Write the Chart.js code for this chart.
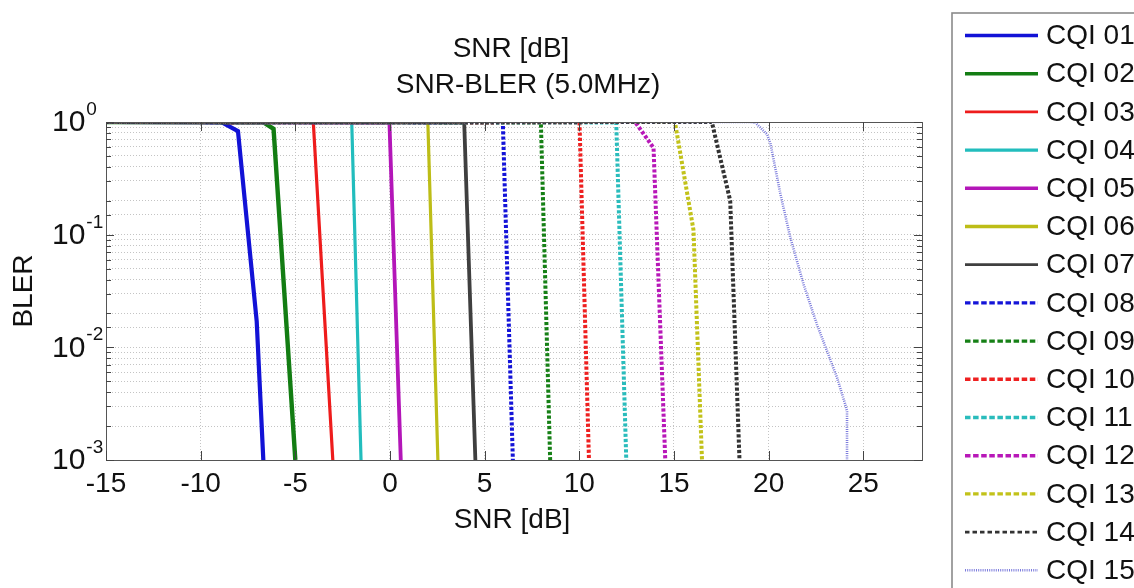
<!DOCTYPE html>
<html><head><meta charset="utf-8">
<script src="https://cdn.jsdelivr.net/npm/chart.js@4.4.0/dist/chart.umd.min.js"></script>
<style>html,body{margin:0;padding:0;background:#fff;}#wrap{width:1134px;height:588px;position:relative;}</style>
</head><body><div id="wrap"><canvas id="c" width="1134" height="588"></canvas></div>
<script>
// ---- data ----
const seriesNames = ['CQI 01','CQI 02','CQI 03','CQI 04','CQI 05','CQI 06','CQI 07','CQI 08','CQI 09','CQI 10','CQI 11','CQI 12','CQI 13','CQI 14','CQI 15'];
const snr01 = [-15, -8.9, -8.03, -7.04, -6.69];
const bler01 = [1, 0.995, 0.83, 0.017, 0.001];
const snr02 = [-15, -6.7, -6.15, -5.0];
const bler02 = [1, 0.995, 0.87, 0.001];
const snr03 = [-15, -4.05, -3.02];
const bler03 = [1, 0.99, 0.001];
const snr04 = [-15, -2.02, -1.53];
const bler04 = [1, 0.99, 0.001];
const snr05 = [-15, -0.03, 0.57];
const bler05 = [1, 0.99, 0.001];
const snr06 = [-15, 2.0, 2.53];
const bler06 = [1, 0.99, 0.001];
const snr07 = [-15, 3.92, 4.51];
const bler07 = [1, 0.99, 0.001];
const snr08 = [-15, 5.96, 6.49];
const bler08 = [1, 0.99, 0.001];
const snr09 = [-15, 7.97, 8.46];
const bler09 = [1, 0.99, 0.001];
const snr10 = [-15, 10.01, 10.51];
const bler10 = [1, 0.99, 0.001];
const snr11 = [-15, 11.95, 12.48];
const bler11 = [1, 0.99, 0.001];
const snr12 = [-15, 12.95, 13.92, 14.54];
const bler12 = [1, 1, 0.59, 0.001];
const snr13 = [-15, 15.05, 16.03, 16.48];
const bler13 = [1, 1, 0.11, 0.001];
const snr14 = [-15, 17.0, 17.97, 18.46];
const bler14 = [1, 1, 0.2, 0.001];
const snr15 = [-15, 19.03, 19.29, 19.91, 20.09, 20.62, 21.14, 21.85, 22.55, 23.08, 23.61, 24.05, 24.14, 24.14];
const bler15 = [1, 1, 0.99, 0.78, 0.65, 0.23, 0.095, 0.036, 0.016, 0.0093, 0.0054, 0.0031, 0.0027, 0.001];
const xTickValues = [-15, -10, -5, 0, 5, 10, 15, 20, 25];
const xTickLabels = ['-15', '-10', '-5', '0', '5', '10', '15', '20', '25'];
const yTickExponents = ['0', '-1', '-2', '-3'];
const titleLines = ['SNR [dB]', 'SNR-BLER (5.0MHz)'];
const xTitle = 'SNR [dB]';
const yTitle = 'BLER';

// ---- styles ----
const snrs = [snr01,snr02,snr03,snr04,snr05,snr06,snr07,snr08,snr09,snr10,snr11,snr12,snr13,snr14,snr15];
const blers = [bler01,bler02,bler03,bler04,bler05,bler06,bler07,bler08,bler09,bler10,bler11,bler12,bler13,bler14,bler15];
const colors = ['#1212d6','#137d13','#ee1c1c','#22bdbd','#b316b8','#bdbd17','#3f3f3f','#1414d8','#168016','#ee2020','#2abcbc','#b818b8','#c2c21a','#333333','#7c7cdc'];
const widths = [4.2,4.4,3.2,3.2,3.8,3.2,3.8,4,4,4,4,4,4,4,2.6];
const dotted = [3.2,2];
const dashes = [[],[],[],[],[],[],[],dotted,dotted,dotted,dotted,dotted,dotted,dotted,[1,1.2]];
const legendDashes = [[],[],[],[],[],[],[],[5.5,2.6],[5.5,2.6],[5.5,2.6],[5.5,2.6],[5.5,2.6],[5.5,2.6],[4.5,3],[1,1.2]];
const legendWidths = [3.6,3.6,2.6,3.2,3.6,3.4,2.8,3.4,3.4,3.4,3.4,3.4,3.4,2.6,2.4];
const FONT = '"Liberation Sans", Arial, Helvetica, sans-serif';

const datasets = seriesNames.map((name, i) => ({
  label: name,
  data: snrs[i].map((x, k) => ({x: x, y: blers[i][k]})),
  borderColor: colors[i],
  backgroundColor: colors[i],
  borderWidth: widths[i],
  borderDash: dashes[i],
  borderCapStyle: 'butt',
  borderJoinStyle: 'miter',
  pointRadius: 0,
  tension: 0,
  fill: false,
  order: seriesNames.length - 1 - i
}));

const isDecade = v => Math.abs(Math.log10(v) - Math.round(Math.log10(v))) < 1e-6;

const decor = {
  id: 'decor',
  afterDraw(chart) {
    const ctx = chart.ctx;
    const a = chart.chartArea;
    const xs = chart.scales.x, ys = chart.scales.y;
    ctx.save();
    ctx.strokeStyle = '#555';
    ctx.lineWidth = 1;
    ctx.setLineDash([]);
    ctx.strokeRect(Math.round(a.left) + 0.5, Math.round(a.top) + 0.5, Math.round(a.right - a.left), Math.round(a.bottom - a.top));
    ctx.strokeStyle = '#444';
    ys.ticks.forEach(t => {
      const y = Math.round(ys.getPixelForValue(t.value)) + 0.5;
      const len = isDecade(t.value) ? 8 : 5;
      ctx.beginPath();
      ctx.moveTo(a.left, y); ctx.lineTo(a.left + len, y);
      ctx.moveTo(a.right, y); ctx.lineTo(a.right - len, y);
      ctx.stroke();
    });
    xs.ticks.forEach(t => {
      const x = Math.round(xs.getPixelForValue(t.value)) + 0.5;
      ctx.beginPath();
      ctx.moveTo(x, a.bottom); ctx.lineTo(x, a.bottom - 9);
      ctx.moveTo(x, a.top); ctx.lineTo(x, a.top + 9);
      ctx.stroke();
    });
    ctx.fillStyle = '#111';
    ctx.font = '28px ' + FONT;
    ctx.textAlign = 'center';
    ctx.textBaseline = 'middle';
    xs.ticks.forEach(t => {
      const idx = xTickValues.indexOf(t.value);
      if (idx < 0) return;
      ctx.fillText(xTickLabels[idx], xs.getPixelForValue(t.value), 484);
    });
    ys.ticks.filter(t => isDecade(t.value)).forEach(t => {
      const y = ys.getPixelForValue(t.value);
      const e = Math.round(Math.log10(t.value));
      const idx = yTickExponents.indexOf(String(e));
      const exp = idx >= 0 ? yTickExponents[idx] : String(e);
      ctx.font = '30px ' + FONT;
      ctx.textAlign = 'left';
      ctx.textBaseline = 'middle';
      ctx.fillText('10', 52, y + 1);
      const w = ctx.measureText('10').width;
      ctx.font = '19px ' + FONT;
      ctx.textBaseline = 'alphabetic';
      ctx.fillText(exp, 52 + w + 1, y - 7);
    });
    ctx.font = '28px ' + FONT;
    ctx.textAlign = 'center';
    ctx.textBaseline = 'middle';
    ctx.fillText(titleLines[0], 511, 49);
    ctx.fillText(titleLines[1], 528, 85);
    ctx.fillText(xTitle, 512, 520);
    ctx.save();
    ctx.translate(24, 291);
    ctx.rotate(-Math.PI / 2);
    ctx.fillText(yTitle, 0, 0);
    ctx.restore();
    ctx.strokeStyle = '#8a8a8a';
    ctx.lineWidth = 1.6;
    ctx.setLineDash([]);
    ctx.strokeRect(952, 13, 300, 700);
    chart.data.datasets.forEach((ds, i) => {
      const y = 35.5 + i * 38.2;
      ctx.beginPath();
      ctx.strokeStyle = ds.borderColor;
      ctx.lineWidth = legendWidths[i];
      ctx.lineCap = 'butt';
      ctx.setLineDash(legendDashes[i]);
      ctx.moveTo(965, y); ctx.lineTo(1038, y);
      ctx.stroke();
      ctx.setLineDash([]);
      ctx.fillStyle = '#111';
      ctx.font = '28px ' + FONT;
      ctx.textAlign = 'left';
      ctx.textBaseline = 'middle';
      ctx.fillText(ds.label, 1046, y + 1);
    });
    ctx.restore();
  }
};

new Chart(document.getElementById('c'), {
  type: 'line',
  data: { datasets: datasets },
  options: {
    responsive: false,
    animation: false,
    devicePixelRatio: 1,
    layout: { padding: { left: 0, top: 122, right: 212, bottom: 0 } },
    plugins: { legend: { display: false }, title: { display: false }, tooltip: { enabled: false } },
    scales: {
      x: {
        type: 'linear', min: -15, max: 28.1,
        afterBuildTicks: s => { s.ticks = xTickValues.map(v => ({ value: v })); },
        afterFit: s => { s.height = 128; },
        ticks: { display: false },
        grid: { color: '#c4c4c4', lineWidth: 1, drawTicks: false, tickLength: 0 },
        border: { display: false, dash: [1, 2] }
      },
      y: {
        type: 'logarithmic', min: 0.001, max: 1,
        afterFit: s => { s.width = 106; },
        ticks: { display: false, autoSkip: false },
        grid: { color: '#c4c4c4', lineWidth: 1, drawTicks: false, tickLength: 0 },
        border: { display: false, dash: [1, 2] }
      }
    }
  },
  plugins: [decor]
});
</script></body></html>
